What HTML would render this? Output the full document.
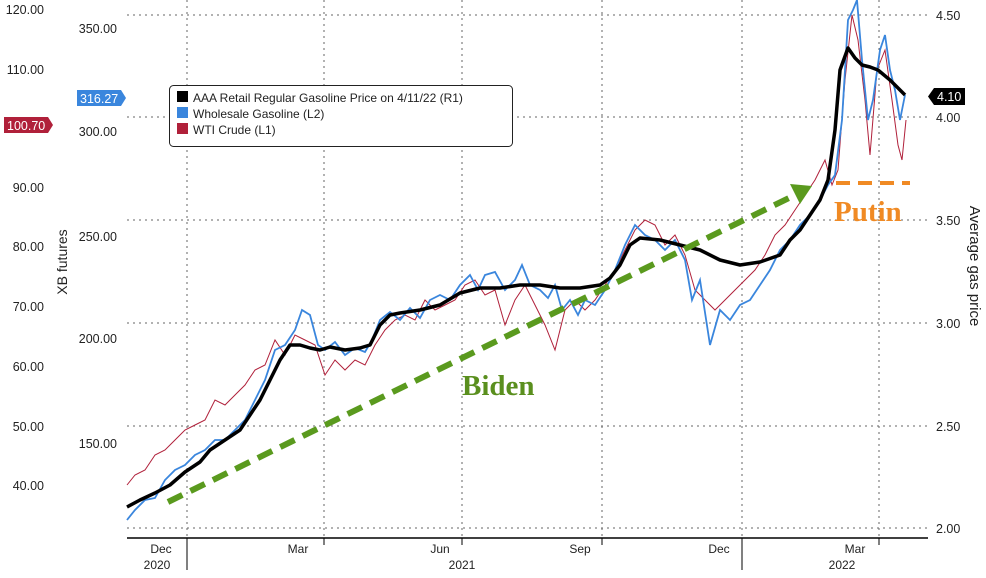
<!DOCTYPE html><html><head><meta charset="utf-8"><style>
body{margin:0;background:#fff;}
svg text{font-family:"Liberation Sans",sans-serif;}
svg text.serif{font-family:"Liberation Serif",serif;font-weight:bold;}
</style></head><body>
<svg width="986" height="573" viewBox="0 0 986 573" xmlns="http://www.w3.org/2000/svg">
<g stroke="#666" stroke-width="1" stroke-dasharray="2,4">
<line x1="127" y1="15" x2="928" y2="15"/><line x1="127" y1="117" x2="928" y2="117"/>
<line x1="127" y1="220" x2="928" y2="220"/><line x1="127" y1="323" x2="928" y2="323"/>
<line x1="127" y1="426" x2="928" y2="426"/><line x1="127" y1="528" x2="928" y2="528"/>
<line x1="187" y1="0" x2="187" y2="538"/><line x1="324" y1="0" x2="324" y2="538"/>
<line x1="462" y1="0" x2="462" y2="538"/><line x1="602" y1="0" x2="602" y2="538"/>
<line x1="742" y1="0" x2="742" y2="538"/><line x1="879" y1="0" x2="879" y2="538"/>
</g>
<line x1="127" y1="538" x2="928" y2="538" stroke="#000" stroke-width="1.5"/>
<g stroke="#000"><line x1="187" y1="538" x2="187" y2="570"/><line x1="742" y1="538" x2="742" y2="570"/>
<line x1="324" y1="538" x2="324" y2="545"/><line x1="462" y1="538" x2="462" y2="545"/><line x1="602" y1="538" x2="602" y2="545"/><line x1="879" y1="538" x2="879" y2="545"/></g>
<g font-size="12" fill="#222" text-anchor="middle">
<text x="161" y="553">Dec</text><text x="298" y="553">Mar</text><text x="440" y="553">Jun</text><text x="580" y="553">Sep</text><text x="719" y="553">Dec</text><text x="855" y="553">Mar</text>
<text x="157" y="569">2020</text><text x="462" y="569">2021</text><text x="842" y="569">2022</text>
</g>
<g font-size="12.5" fill="#222" text-anchor="end">
<text x="117" y="33">350.00</text><text x="117" y="136">300.00</text><text x="117" y="241">250.00</text><text x="117" y="343">200.00</text><text x="117" y="448">150.00</text>
<text x="44" y="14">120.00</text><text x="44" y="74">110.00</text><text x="44" y="192">90.00</text><text x="44" y="251">80.00</text><text x="44" y="311">70.00</text><text x="44" y="371">60.00</text><text x="44" y="431">50.00</text><text x="44" y="490">40.00</text>
</g>
<g font-size="12.5" fill="#222">
<text x="936" y="20">4.50</text><text x="936" y="122">4.00</text><text x="936" y="225">3.50</text><text x="936" y="328">3.00</text><text x="936" y="431">2.50</text><text x="936" y="533">2.00</text>
</g>
<text x="0" y="0" font-size="14" fill="#222" transform="translate(67,262) rotate(-90)" text-anchor="middle">XB futures</text>
<text x="0" y="0" font-size="15" fill="#222" transform="translate(970,266) rotate(90)" text-anchor="middle">Average gas price</text>
<polygon points="77,90 121,90 126,98 121,106 77,106" fill="#3a86dd"/><text x="80" y="103" font-size="12.5" fill="#fff">316.27</text>
<polygon points="4,117 48,117 53,125 48,133 4,133" fill="#b0203a"/><text x="7" y="130" font-size="12.5" fill="#fff">100.70</text>
<polygon points="934,88 965,88 965,105 934,105 928,96.5" fill="#000"/><text x="937" y="101" font-size="12.5" fill="#fff">4.10</text>
<polyline fill="none" stroke="#b0203a" stroke-width="1" points="127,485 135,475 145,470 155,455 165,450 175,440 185,430 195,425 205,420 215,400 225,405 235,395 245,385 255,370 265,365 275,340 285,355 295,335 305,340 315,345 325,375 335,360 345,370 355,360 365,365 375,345 385,330 395,320 405,315 415,320 425,300 435,310 445,305 455,300 465,285 475,280 485,295 495,290 505,325 515,300 525,285 535,305 545,325 555,350 565,310 575,300 585,310 595,300 605,285 615,270 625,250 635,230 645,220 655,225 665,245 675,235 685,255 695,290 705,300 715,310 725,300 735,290 745,280 755,270 765,255 775,235 785,225 795,210 805,195 815,180 825,160 832,185 838,170 845,80 852,15 858,40 865,100 870,155 877,70 885,50 892,100 898,145 902,160 906,120"/>
<polyline fill="none" stroke="#3a86dd" stroke-width="1.8" points="127,520 135,510 145,500 155,498 165,480 175,470 185,465 195,455 205,450 215,440 225,440 235,430 245,420 255,400 265,380 275,350 285,345 295,330 302,310 310,315 318,345 325,350 335,342 345,355 355,348 365,352 372,340 380,320 390,312 400,320 410,308 420,318 430,300 440,295 450,300 460,285 470,275 478,290 485,275 495,272 505,290 515,280 522,265 530,285 540,290 548,298 555,285 562,310 570,300 578,315 585,300 595,305 605,290 615,270 625,245 635,225 645,235 655,240 665,250 675,240 685,260 692,300 700,280 710,345 720,310 730,320 740,305 750,300 760,285 770,270 780,250 790,240 800,225 810,215 820,200 828,185 835,175 842,120 848,20 853,10 857,0 862,60 868,120 873,100 880,50 885,35 890,70 895,90 900,120 905,95"/>
<polyline fill="none" stroke="#000" stroke-width="3.5" stroke-linejoin="round" points="127,507 140,500 155,493 170,485 185,472 200,462 210,450 225,440 240,430 250,415 260,400 270,380 280,360 290,345 300,345 310,348 320,350 330,347 345,350 360,348 370,345 380,325 390,315 400,313 420,310 440,305 460,293 480,288 500,288 520,285 540,285 560,288 580,288 600,285 610,278 620,265 630,245 640,238 660,240 680,245 700,250 720,260 740,265 760,262 780,255 790,240 800,230 810,215 820,200 828,180 835,130 840,70 848,48 855,58 862,65 870,67 878,70 890,80 905,95"/>
<line x1="168" y1="502" x2="795" y2="195" stroke="#5a9a1e" stroke-width="6" stroke-dasharray="16,9"/>
<polygon points="812,186 790,184 800,204" fill="#5a9a1e"/>
<line x1="836" y1="183" x2="910" y2="183" stroke="#f08a24" stroke-width="4" stroke-dasharray="14,8"/>
<text class="serif" x="462" y="395" font-size="29" fill="#5a8f1e">Biden</text>
<text class="serif" x="834" y="221" font-size="29" fill="#f08a24">Putin</text>
<rect x="169.5" y="85.5" width="343" height="61" rx="4" fill="#fff" stroke="#222"/>
<rect x="177" y="91" width="11" height="11" fill="#000"/><rect x="177" y="107" width="11" height="11" fill="#3a86dd"/><rect x="177" y="123" width="11" height="11" fill="#b0203a"/>
<g font-size="12" fill="#222"><text x="193" y="102">AAA Retail Regular Gasoline Price on 4/11/22 (R1)</text><text x="193" y="118">Wholesale Gasoline (L2)</text><text x="193" y="134">WTI Crude (L1)</text></g>
</svg>
</body></html>
